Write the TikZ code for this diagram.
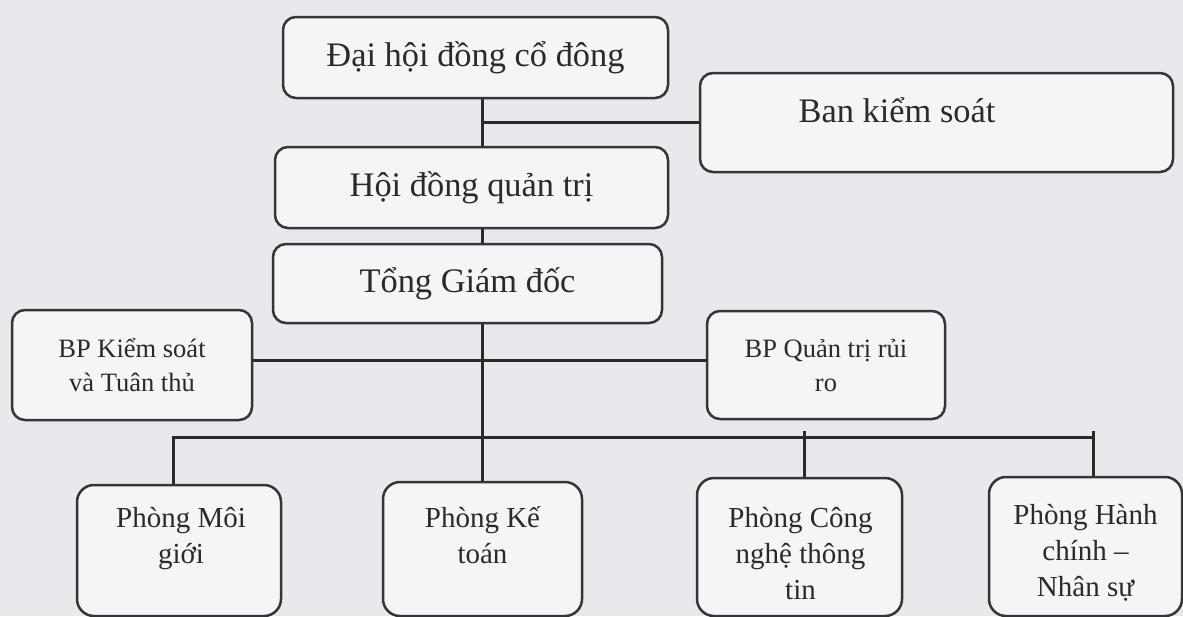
\documentclass[tikz,border=0pt]{standalone}
\usepackage{fontspec}
\setmainfont{Liberation Serif}
\definecolor{bgc}{HTML}{E9E8ED}
\definecolor{boxfill}{HTML}{F5F5F7}
\definecolor{boxline}{HTML}{353535}
\definecolor{lnc}{HTML}{2A2A2A}
\definecolor{txt}{HTML}{2A2A2A}
\begin{document}
\begin{tikzpicture}[x=1pt,y=-1pt,
  box/.style={draw=boxline, line width=2.5pt, rounded corners=13pt, fill=boxfill, inner sep=0pt, text=txt},
  bbox/.style={box, rounded corners=17pt},
  big/.style={font=\fontsize{34.4}{40}\selectfont},
  mid/.style={font=\fontsize{26.5}{34}\selectfont, align=center},
  sml/.style={font=\fontsize{29}{36}\selectfont, align=center, text=txt},
  conn/.style={draw=lnc, line width=3pt}]
\fill[bgc] (0,0) rectangle (1183,616);
\useasboundingbox (0,0) rectangle (1183,616);
\clip (0,0) rectangle (1183,616);

% coordinates for connector routing
\coordinate (vx) at (482,0);
\coordinate (d1) at (173,437);
\coordinate (busR) at (1093,437);
\coordinate (d3) at (804,431);
\coordinate (d4) at (1093,431);

% connectors (drawn first, boxes on top)
\draw[conn] (vx |- 0,57) -- (vx |- 0,283);
\draw[conn] (vx |- 0,122) -- (700,122);
\draw[conn] (vx |- 0,283) -- (vx |- 0,549);
\draw[conn] (132,360) -- (826,360);
\draw[conn] (d1 |- 0,550) -- (d1) -- (busR);
\draw[conn] (d3) -- (d3 |- 0,547);
\draw[conn] (d4) -- (d4 |- 0,546);

% boxes
\node[box, big, minimum width=385, minimum height=81] (dhd) at (475.5,57.5) {Đại hội đồng cổ đông};
\node[box, minimum width=473, minimum height=99,
      label={[big, text=txt, xshift=-39.5pt, yshift=12.5pt]center:Ban kiểm soát}] (bks) at (936.5,122.5) {};
\node[box, big, minimum width=393, minimum height=81] (hdqt) at (471.5,187.5) {Hội đồng quản trị};
\node[box, big, minimum width=389, minimum height=79] (tgd) at (467.5,283.5) {Tổng Giám đốc};
\node[box, mid, minimum width=240, minimum height=110] (bpks) at (132,365) {BP Kiểm soát\\và Tuân thủ};
\node[box, mid, minimum width=238, minimum height=108] (bpqt) at (826,365) {BP Quản trị rủi\\ro};
\node[bbox, minimum width=204, minimum height=131,
      label={[sml, xshift=2pt, yshift=12pt]center:Phòng Môi\\giới}] (moi) at (179,550.5) {};
\node[bbox, minimum width=199, minimum height=134,
      label={[sml, yshift=14pt]center:Phòng Kế\\toán}] (kt) at (482.5,549) {};
\node[bbox, minimum width=205, minimum height=138,
      label={[sml, xshift=1pt, yshift=-7pt]center:Phòng Công\\nghệ thông\\tin}] (cntt) at (799.5,547) {};
\node[bbox, minimum width=193, minimum height=139,
      label={[sml, yshift=-6pt]center:Phòng Hành\\chính –\\Nhân sự}] (hcns) at (1085.5,546.5) {};
\end{tikzpicture}
\end{document}
